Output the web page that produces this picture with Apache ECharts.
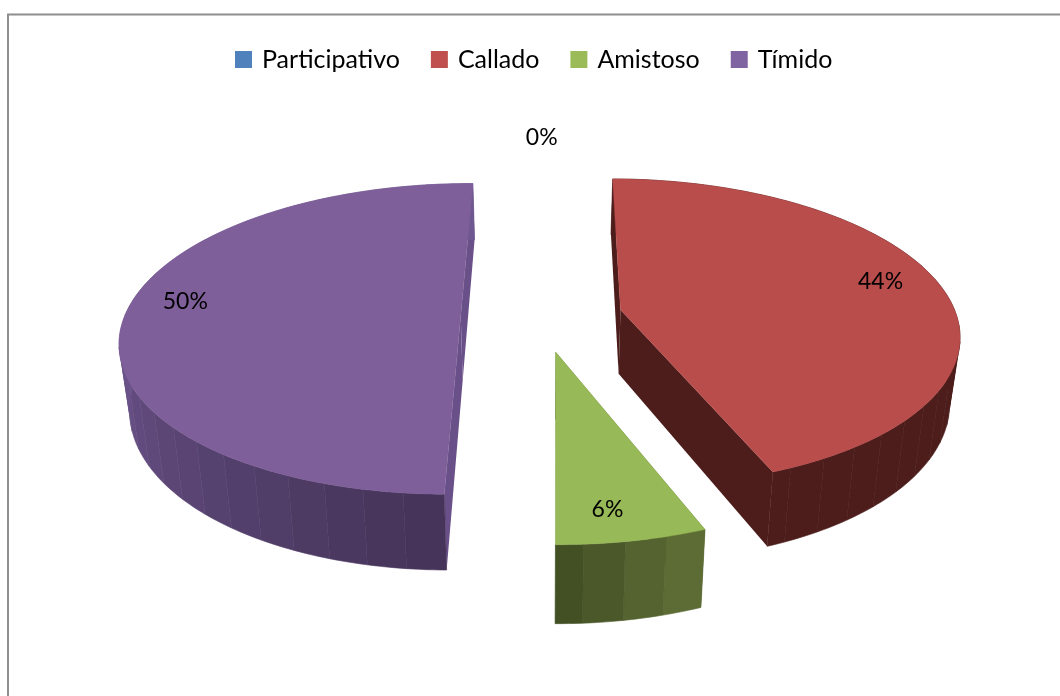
<!DOCTYPE html>
<html><head><meta charset="utf-8">
<style>html,body{margin:0;padding:0;background:#fff}#c{width:1060px;height:696px}</style>
<script src="https://cdn.jsdelivr.net/npm/echarts@6/dist/echarts.min.js"></script>
</head><body><div id="c"></div>
<script>
// ---- data ----
var categories = ['Participativo', 'Callado', 'Amistoso', 'Tímido'];
var percentages = [0, 44, 6, 50];
// ---- styling ----
var legendColors = ['#4f81bd', '#c0504d', '#9bbb59', '#8064a2'];
var topColors = ['#4f81bd', '#b94d4b', '#98b957', '#7f5f99'];
var innerWallColors = ['#2f4d71', '#4c1d1b', '#4a5a2a', '#6a5088'];
var outerLight = ['#2f4d71', '#4c1d1b', '#5d6c35', '#6f5790'];
var outerDark = ['#2f4d71', '#4c1d1b', '#3c4a20', '#46345a'];
var nudgeX = [0, 5, 2, 0];
var labelRadius = [1.19, 0.83, 0.85, 0.84];
var labelTurn = [0, -3, 2, 6];
// ---- 3D projection of the pie ----
var cx = 539, horizon = -704, baseY = 316, scaleX = 336, persp = 0.149;
var explode = 0.233, thick = 64.5, taper = 0.975, startDeg = 0.4;

function project(u, v, low, dx) {
  var s = 1 / (1 + persp * v);
  var x = scaleX * u * s;
  if (low) x *= taper;
  return [cx + dx + x, horizon + (baseY - horizon + (low ? thick : 0)) * s];
}
function lerpColor(a, b, t) {
  var p = function (c, i) { return parseInt(c.substr(i, 2), 16); };
  var m = [1, 3, 5].map(function (i) { return Math.round(p(a, i) + (p(b, i) - p(a, i)) * t); });
  return 'rgb(' + m.join(',') + ')';
}
function renderSlice(params, api) {
  var idx = params.seriesIndex, val = api.value(0);
  var total = percentages.reduce(function (a, b) { return a + b; }, 0);
  var before = percentages.slice(0, idx).reduce(function (a, b) { return a + b; }, 0);
  var a0 = startDeg + before / total * 360, a1 = a0 + val / total * 360, mid = (a0 + a1) / 2;
  var rad = Math.PI / 180;
  var eu = explode * Math.sin(mid * rad), ev = explode * Math.cos(mid * rad), dx = nudgeX[idx];
  var children = [];
  if (val > 0) {
    var arcTop = [], arcLow = [], n = Math.max(2, Math.ceil((a1 - a0) / 1));
    for (var i = 0; i <= n; i++) {
      var t = (a0 + (a1 - a0) * i / n) * rad;
      arcTop.push(project(eu + Math.sin(t), ev + Math.cos(t), false, dx));
      arcLow.push(project(eu + Math.sin(t), ev + Math.cos(t), true, dx));
    }
    var apexTop = project(eu, ev, false, dx), apexLow = project(eu, ev, true, dx);
    // radial walls
    [[arcTop[0], arcLow[0]], [arcTop[n], arcLow[n]]].forEach(function (e) {
      children.push({ type: 'polygon', shape: { points: [apexTop, e[0], e[1], apexLow] },
        style: { fill: innerWallColors[idx] }, silent: true });
    });
    // curved wall, in bands
    var band = Math.max(1, Math.round(6 / ((a1 - a0) / n)));
    for (var j = 0; j < n; j += band) {
      var k = Math.min(n, j + band), pts = [];
      for (var q = j; q <= k; q++) pts.push(arcTop[q]);
      for (var r = k; r >= j; r--) pts.push(arcLow[r]);
      var ang = a0 + (a1 - a0) * j / n, mix;
      mix = idx === 3 ? (a1 - ang) / 90 * 0 + Math.min(1, Math.max(0, (270 - ang) / 90)) : (ang - 158) / 22;
      if (idx === 2) mix = 1 - Math.min(1, Math.max(0, (ang - a0) / (a1 - a0)));
      else if (idx === 3) mix = Math.min(1, Math.max(0, (270 - ang) / 88));
      else mix = 0;
      var col = idx === 2 ? lerpColor(outerDark[idx], outerLight[idx], mix) : lerpColor(outerLight[idx], outerDark[idx], mix);
      children.push({ type: 'polygon', shape: { points: pts },
        style: { fill: col, stroke: col, lineWidth: 0.6 }, silent: true });
    }
    // top face
    children.push({ type: 'polygon', shape: { points: [apexTop].concat(arcTop) },
      style: { fill: topColors[idx], stroke: topColors[idx], lineWidth: 0.4 }, silent: true });
  }
  var lt = (mid + labelTurn[idx]) * rad, lr = labelRadius[idx];
  var lp = project(eu + lr * Math.sin(lt), ev + lr * Math.cos(lt), false, dx);
  children.push({ type: 'text', x: lp[0], y: lp[1], silent: true, z2: 50,
    style: { text: val + '%', fill: '#000', font: '23px Lato', textAlign: 'center', textVerticalAlign: 'middle' } });
  return { type: 'group', children: children };
}
var chart = echarts.init(document.getElementById('c'), null, { renderer: 'canvas' });
chart.setOption({
  animation: false,
  backgroundColor: '#fff',
  legend: {
    left: 230, top: 42, itemWidth: 17, itemHeight: 17, itemGap: 31, icon: 'rect',
    data: categories,
    textStyle: { fontFamily: 'Lato', fontSize: 25, color: '#000', padding: [0, 0, 0, 5] }
  },
  graphic: [{ type: 'rect', silent: true, shape: { x: 8, y: 14.5, width: 1100, height: 760 },
    style: { fill: 'none', stroke: '#8e8e8e', lineWidth: 2 } }],
  series: categories.map(function (name, i) {
    return { type: 'custom', name: name, coordinateSystem: 'none', renderItem: renderSlice,
      itemStyle: { color: legendColors[i] }, data: [[percentages[i]]] };
  })
});
</script></body></html>
